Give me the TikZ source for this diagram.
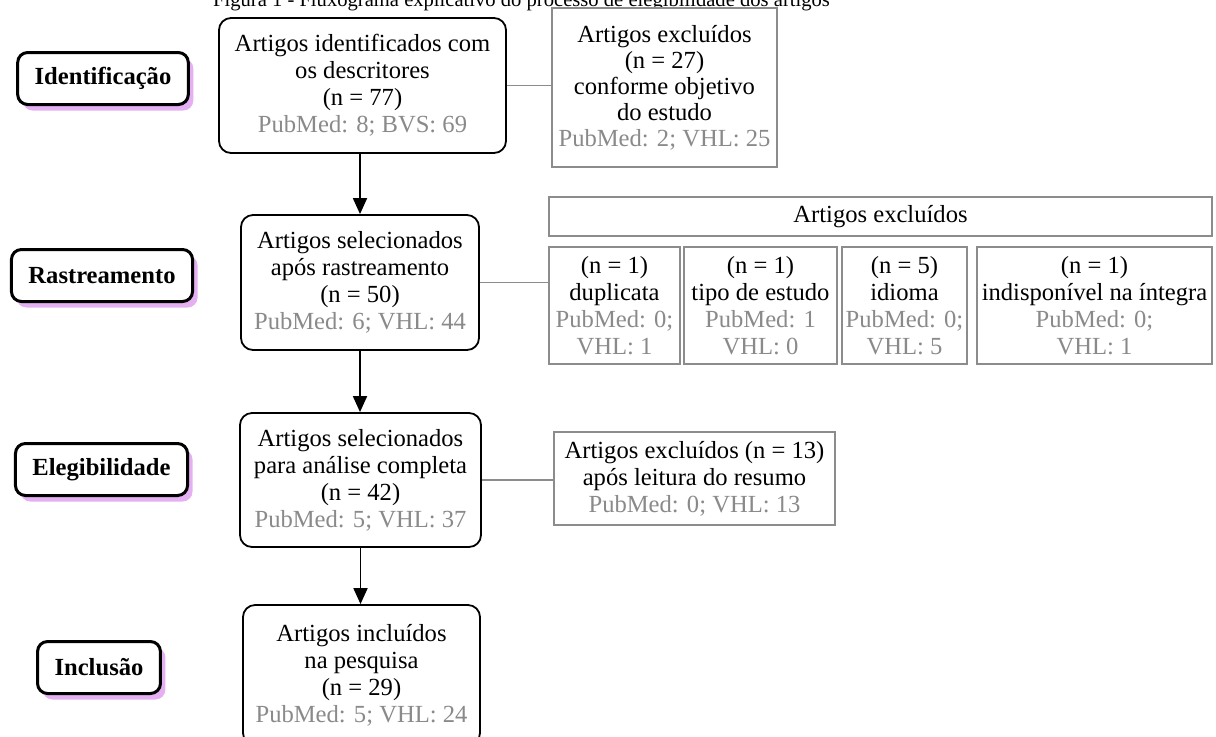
\documentclass[tikz,border=0pt]{standalone}
\usepackage{fontspec}
\setmainfont{Liberation Serif}
\usetikzlibrary{arrows.meta,shadows}
\definecolor{txtgray}{RGB}{138,138,138}
\definecolor{boxgray}{RGB}{140,140,140}
\definecolor{shpink}{RGB}{228,176,242}
\newcommand\gr[1]{\textcolor{txtgray}{#1}}
\newcommand\mainfs{\fontsize{12.3}{13.5}\selectfont}
\begin{document}
\begin{tikzpicture}[x=0.5pt,y=-0.5pt,
  stage/.style={draw=black, line width=1.5pt, rounded corners=5pt, fill=white,
    inner xsep=8.5pt, inner ysep=0pt, minimum height=26pt,
    font=\fontsize{12.3}{13.5}\selectfont\bfseries,
    general shadow={fill=shpink, shadow xshift=2.5pt, shadow yshift=-3pt}},
  mainbox/.style={draw=black, line width=0.9pt, rounded corners=6pt, fill=white,
    align=center, inner sep=0pt, font=\mainfs},
  exbox/.style={draw=boxgray, line width=0.9pt, fill=white,
    align=center, inner sep=0pt, font=\mainfs},
  arr/.style={line width=0.9pt, -{Triangle[width=7pt,length=8pt]}},
  link/.style={draw=boxgray, line width=0.9pt}]
\useasboundingbox (0,0) rectangle (1216,736);
\clip (0,0) rectangle (1216,736);

% title (cut at top edge, as in the reference)
\node[anchor=base, inner sep=0pt, font=\fontsize{10.3}{12}\selectfont] (title) at (521.5,6)
  {Figura 1 - Fluxograma explicativo do processo de elegibilidade dos artigos};

% stage labels
\node[stage] (s1) at (103,78.5) {Identificação};
\node[stage] (s2) at (102,275.5) {Rastreamento};
\node[stage] (s3) at (101.5,469.5) {Elegibilidade};
\node[stage] (s4) at (99,667.5) {Inclusão};

% main column
\node[mainbox, minimum width=143.5pt, minimum height=67.5pt] (b1) at (362.5,85.5)
  {Artigos identificados com\\os descritores\\(n = 77)\\\gr{PubMed: 8; BVS: 69}};
\node[mainbox, minimum width=119pt, minimum height=67.5pt] (b2) at (360,282.5)
  {Artigos selecionados\\após rastreamento\\(n = 50)\\\gr{PubMed: 6; VHL: 44}};
\node[mainbox, minimum width=120.5pt, minimum height=67pt] (b3) at (360.5,480)
  {Artigos selecionados\\para análise completa\\(n = 42)\\\gr{PubMed: 5; VHL: 37}};
\node[mainbox, minimum width=118.5pt, minimum height=70pt] (b4) at (361.5,675)
  {Artigos incluídos\\na pesquisa\\(n = 29)\\\gr{PubMed: 5; VHL: 24}};

% excluded boxes
\node[exbox, minimum width=112.5pt, minimum height=79.5pt,
  font=\fontsize{12.3}{13}\selectfont] (e1) at (664.5,87.5)
  {Artigos excluídos\\(n = 27)\\conforme objetivo\\do estudo\\\gr{PubMed: 2; VHL: 25}};
\node[exbox, minimum width=331.5pt, minimum height=19.5pt] (hdr) at (880.5,216.5)
  {Artigos excluídos};
\node[exbox, minimum width=65.5pt, minimum height=58.5pt] (dup) at (614.5,305.5)
  {(n = 1)\\duplicata\\\gr{PubMed: 0;}\\\gr{VHL: 1}};
\node[exbox, minimum width=76.5pt, minimum height=58.5pt] (tipo) at (760.5,305.5)
  {(n = 1)\\tipo de estudo\\\gr{PubMed: 1}\\\gr{VHL: 0}};
\node[exbox, minimum width=62.5pt, minimum height=58.5pt] (idioma) at (904.5,305.5)
  {(n = 5)\\idioma\\\gr{PubMed: 0;}\\\gr{VHL: 5}};
\node[exbox, minimum width=117.5pt, minimum height=58.5pt] (indisp) at (1094.5,305.5)
  {(n = 1)\\indisponível na íntegra\\\gr{PubMed: 0;}\\\gr{VHL: 1}};
\node[exbox, minimum width=140.5pt, minimum height=46.5pt] (e3) at (694.5,478.5)
  {Artigos excluídos (n = 13)\\após leitura do resumo\\\gr{PubMed: 0; VHL: 13}};

% connectors
\draw[arr] (b1.south -| b2.north) -- (b2.north);
\draw[arr] (b2.south) -- (b2.south |- b3.north);
\draw[arr] (b3.south) -- (b3.south |- b4.north);
\draw[link] (b1.east) -- (b1.east -| e1.west);
\draw[link] (b2.east) -- (b2.east -| dup.west);
\draw[link] (b3.east) -- (b3.east -| e3.west);
\end{tikzpicture}
\end{document}
